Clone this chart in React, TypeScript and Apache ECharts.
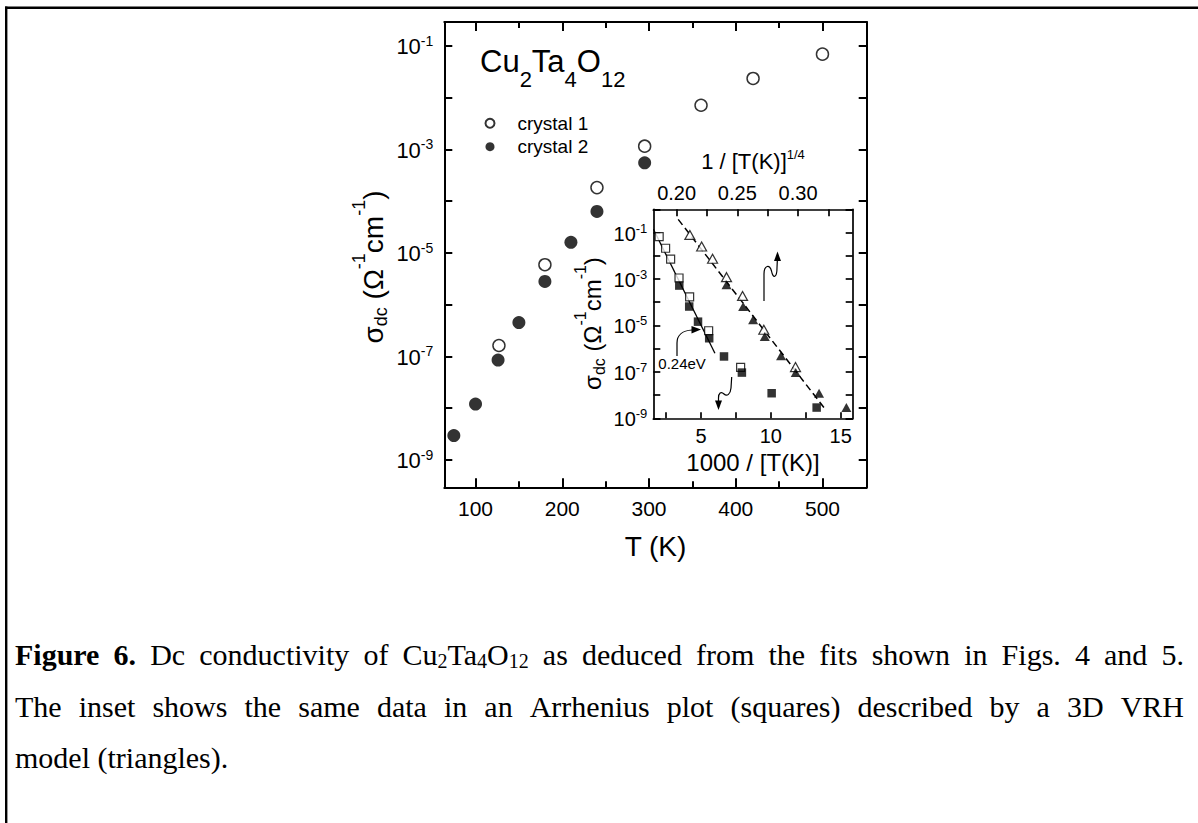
import React, { useEffect, useRef } from 'react';
import * as echarts from 'echarts';

const SANS = '"Liberation Sans", Arial, sans-serif';
const SERIF = '"Liberation Serif", "Times New Roman", serif';

// ---- main plot data: sigma_dc vs T ----
const mainTempsCrystal1 = [127, 180, 240, 295, 360, 420, 500];
const mainSigmaCrystal1 = [1.62e-7, 5.9e-6, 1.82e-4, 1.15e-3, 7.1e-3, 2.34e-2, 6.9e-2];
const mainTempsCrystal2 = [75, 100, 126, 150, 180, 210, 240, 295];
const mainSigmaCrystal2 = [2.95e-9, 1.2e-8, 8.5e-8, 4.5e-7, 2.8e-6, 1.6e-5, 6.3e-5, 5.5e-4];

// ---- inset: Arrhenius (squares, 1000/T) ----
const arrInvT1 = [2.01, 2.47, 2.83, 3.43, 4.19, 5.55, 7.84];
const arrSigma1 = [6.6e-2, 2.1e-2, 7.1e-3, 1.1e-3, 1.7e-4, 5.9e-6, 1.55e-7];
const arrInvT2 = [3.45, 4.16, 4.79, 5.59, 6.65, 7.93, 10.06, 13.28];
const arrSigma2 = [5.2e-4, 6.5e-5, 1.45e-5, 2.8e-6, 4.6e-7, 9.3e-8, 1.2e-8, 2.9e-9];
// ---- inset: VRH (triangles, T^-1/4) ----
const vrhX1 = [0.2109, 0.2206, 0.2296, 0.2411, 0.2543, 0.2718, 0.2979];
const vrhSigma1 = [7.9e-2, 2.5e-2, 7.4e-3, 1.2e-3, 1.86e-4, 6.5e-6, 1.6e-7];
const vrhX2 = [0.2411, 0.2548, 0.263, 0.2726, 0.286, 0.2981, 0.3173, 0.3398];
const vrhSigma2 = [5.6e-4, 6.5e-5, 1.74e-5, 3.3e-6, 4.9e-7, 9.3e-8, 1.2e-8, 2.9e-9];
// ---- fit lines ----
const arrFitX = [1.6, 6.0];
const arrFitSigma = [0.138, 6.3e-7];
const vrhFitX = [0.2013, 0.3228];
const vrhFitSigma = [0.37, 2.3e-9];

// ---- ticks ----
const mainXMajor = [100, 200, 300, 400, 500];
const mainXMinor = [150, 250, 350, 450];
const insetBottomTicks = [2.5, 5, 7.5, 10, 12.5, 15];
const insetBottomLabels = [5, 10, 15];
const insetTopTicks = [0.2, 0.225, 0.25, 0.275, 0.3, 0.325];
const insetTopLabels = [0.2, 0.25, 0.3];

// ---- caption ----
type Piece = [string, string];
const captionLine1: Piece[][] = [
  [['b', 'Figure']], [['b', '6.']], [['r', 'Dc']], [['r', 'conductivity']], [['r', 'of']],
  [['r', 'Cu'], ['sub', '2'], ['r', 'Ta'], ['sub', '4'], ['r', 'O'], ['sub', '12']],
  [['r', 'as']], [['r', 'deduced']], [['r', 'from']], [['r', 'the']], [['r', 'fits']],
  [['r', 'shown']], [['r', 'in']], [['r', 'Figs.']], [['r', '4']], [['r', 'and']], [['r', '5.']],
];
const captionLine2Words = 'The inset shows the same data in an Arrhenius plot (squares) described by a 3D VRH'.split(' ');
const captionLine3Words = 'model (triangles).'.split(' ');

const zip = (xs: number[], ys: number[]) => xs.map((x, i) => [x, ys[i]]);

const CAP_FS = 30;
const CAP_SUB = 20;
const CAP_LEFT = 15;
const CAP_RIGHT = 1184;

function capFont(style: string) {
  if (style === 'b') return `bold ${CAP_FS}px "Liberation Serif"`;
  if (style === 'sub') return `${CAP_SUB}px "Liberation Serif"`;
  return `${CAP_FS}px "Liberation Serif"`;
}

function buildCaptionLine(words: Piece[][], justify: boolean, spName: string) {
  const ctx = document.createElement('canvas').getContext('2d')!;
  let total = 0;
  words.forEach((w) => w.forEach(([s, t]) => { ctx.font = capFont(s); total += ctx.measureText(t).width; }));
  ctx.font = capFont('r');
  let sp = ctx.measureText(' ').width;
  if (justify) sp = (CAP_RIGHT - CAP_LEFT - total) / (words.length - 1);
  const text = words.map((w) => w.map(([s, t]) => `{${s}|${t}}`).join('')).join(`{${spName}| }`);
  return { text, sp };
}

const powLabel = (v: number) => {
  const e = Math.log10(v);
  const r = Math.round(e);
  if (Math.abs(e - r) > 1e-6 || r % 2 === 0) return '';
  return `{b|10}{s|${r}}`;
};

const tickRich = (fs: number, ss: number, pt: number) => ({
  b: { fontSize: fs, fontFamily: SANS, color: '#000', padding: [pt, 0, 0, 0] },
  s: { fontSize: ss, fontFamily: SANS, color: '#000', verticalAlign: 'top' },
});

function registerShapes() {
  const g: any = echarts.graphic;
  g.registerShape('arrowEa', g.extendPath('M677,356 L677,343 C677,335 683,330.5 692,330', {}));
  g.registerShape('arrowDown', g.extendPath('M731.7,377 L731,388 C730.5,394 727,397 724,394 C721,391 718.5,393 718.5,398 L718.5,401', {}));
  g.registerShape('arrowUp', g.extendPath('M764,301 L764,274 C764,265 770,264 771.5,271 C773,279 777,278 777,268 L777.3,261', {}));
}

function buildOption() {
  const mainLine = { show: true, onZero: false, lineStyle: { color: '#000', width: 2 } };
  const insetLine = { show: true, onZero: false, lineStyle: { color: '#000', width: 1.7 } };
  const mainTickStyle = { color: '#000', width: 2 };
  const insetTickStyle = { color: '#000', width: 1.7 };
  const noSplit = { show: false };

  const l1 = buildCaptionLine(captionLine1, true, 'sp1');
  const l2 = buildCaptionLine(captionLine2Words.map((w) => [['r', w] as Piece]), true, 'sp2');
  const l3 = buildCaptionLine(captionLine3Words.map((w) => [['r', w] as Piece]), false, 'sp3');
  const capRich: any = {
    r: { fontSize: CAP_FS, fontFamily: SERIF, color: '#000', padding: [0, 0, 2, 0] },
    b: { fontSize: CAP_FS, fontFamily: SERIF, fontWeight: 'bold', color: '#000', padding: [0, 0, 2, 0] },
    sub: { fontSize: CAP_SUB, fontFamily: SERIF, color: '#000', verticalAlign: 'bottom' },
    sp1: { fontSize: CAP_FS, fontFamily: SERIF, width: l1.sp },
    sp2: { fontSize: CAP_FS, fontFamily: SERIF, width: l2.sp },
    sp3: { fontSize: CAP_FS, fontFamily: SERIF, width: l3.sp },
  };

  const yTitleRich = (fs: number, ss: number, pt: number, pb: number) => ({
    m: { fontSize: fs, fontFamily: SANS, color: '#000', padding: [pt, 0, pb, 0] },
    sup: { fontSize: ss, fontFamily: SANS, color: '#000', verticalAlign: 'top' },
    sub: { fontSize: ss, fontFamily: SANS, color: '#000', verticalAlign: 'bottom' },
  });
  const yTitleText = '{m|σ}{sub|dc}{m| (Ω}{sup|-1}{m|cm}{sup|-1}{m|)}';

  return {
    animation: false,
    backgroundColor: '#fff',
    textStyle: { fontFamily: SANS, color: '#000' },
    grid: [
      { left: 444.3, top: 22, width: 422.4, height: 465.3, outerBoundsMode: 'none' },
      { left: 653.3, top: 209.3, width: 199.4, height: 209, outerBoundsMode: 'none' },
    ],
    legend: {
      data: ['crystal 1', 'crystal 2'],
      orient: 'vertical',
      left: 484.5,
      top: 113.8,
      padding: 0,
      itemWidth: 45,
      itemHeight: 9,
      itemGap: 4.4,
      selectedMode: false,
      textStyle: { fontSize: 19, fontFamily: SANS, color: '#000', lineHeight: 19 },
    },
    xAxis: [
      {
        type: 'value', gridIndex: 0, position: 'bottom', min: 64, max: 551,
        axisLine: mainLine,
        axisTick: { inside: true, length: 9, customValues: mainXMajor, lineStyle: mainTickStyle },
        axisLabel: { customValues: mainXMajor, fontSize: 21, fontFamily: SANS, color: '#000', margin: 11 },
        splitLine: noSplit,
        name: 'T (K)', nameLocation: 'middle', nameGap: 45,
        nameTextStyle: { fontSize: 28, fontFamily: SANS, color: '#000' },
      },
      {
        type: 'value', gridIndex: 0, position: 'bottom', min: 64, max: 551,
        axisLine: { show: false, onZero: false },
        axisTick: { inside: true, length: 6, customValues: mainXMinor, lineStyle: mainTickStyle },
        axisLabel: { show: false }, splitLine: noSplit,
      },
      {
        type: 'value', gridIndex: 0, position: 'top', min: 64, max: 551,
        axisLine: mainLine,
        axisTick: { inside: true, length: 9, customValues: mainXMajor, lineStyle: mainTickStyle },
        axisLabel: { show: false }, splitLine: noSplit,
      },
      {
        type: 'value', gridIndex: 0, position: 'top', min: 64, max: 551,
        axisLine: { show: false, onZero: false },
        axisTick: { inside: true, length: 6, customValues: mainXMinor, lineStyle: mainTickStyle },
        axisLabel: { show: false }, splitLine: noSplit,
      },
      {
        type: 'value', gridIndex: 1, position: 'bottom', min: 1.59, max: 15.86,
        axisLine: insetLine,
        axisTick: { inside: true, length: 6, customValues: insetBottomTicks, lineStyle: insetTickStyle },
        axisLabel: { customValues: insetBottomLabels, fontSize: 20, fontFamily: SANS, color: '#000', margin: 8 },
        splitLine: noSplit,
        name: '1000 / [T(K)]', nameLocation: 'middle', nameGap: 32,
        nameTextStyle: { fontSize: 24, fontFamily: SANS, color: '#000' },
      },
      {
        type: 'value', gridIndex: 1, position: 'top', min: 0.1808, max: 0.345,
        axisLine: insetLine,
        axisTick: { inside: true, length: 7, customValues: insetTopTicks, lineStyle: insetTickStyle },
        axisLabel: {
          customValues: insetTopLabels, fontSize: 20, fontFamily: SANS, color: '#000', margin: 6,
          formatter: (v: number) => v.toFixed(2),
        },
        splitLine: noSplit,
        name: '{b|1 / [T(K)]}{s|1/4}', nameLocation: 'middle', nameGap: 37,
        nameTextStyle: {
          rich: {
            b: { fontSize: 22, fontFamily: SANS, color: '#000', padding: [2, 0, 0, 0] },
            s: { fontSize: 13, fontFamily: SANS, color: '#000', verticalAlign: 'top' },
          },
        },
      },
    ],
    yAxis: [
      {
        type: 'log', logBase: 10, gridIndex: 0, position: 'left',
        min: Math.pow(10, -9.53), max: Math.pow(10, -0.54),
        axisLine: mainLine,
        axisTick: { inside: true, length: 8, lineStyle: mainTickStyle },
        axisLabel: { formatter: powLabel, margin: 11, rich: tickRich(22, 14, 2) },
        splitLine: noSplit, minorTick: { show: false },
      },
      {
        type: 'log', logBase: 10, gridIndex: 0, position: 'right',
        min: Math.pow(10, -9.53), max: Math.pow(10, -0.54),
        axisLine: mainLine,
        axisTick: { inside: true, length: 8, lineStyle: mainTickStyle },
        axisLabel: { show: false }, splitLine: noSplit,
      },
      {
        type: 'log', logBase: 10, gridIndex: 1, position: 'left',
        min: 0.999e-9, max: 1.001,
        axisLine: insetLine,
        axisTick: { inside: true, length: 7, lineStyle: insetTickStyle },
        axisLabel: { formatter: powLabel, margin: 6, rich: tickRich(20, 13, 2) },
        splitLine: noSplit,
      },
      {
        type: 'log', logBase: 10, gridIndex: 1, position: 'right',
        min: 0.999e-9, max: 1.001,
        axisLine: insetLine,
        axisTick: { inside: true, length: 7, lineStyle: insetTickStyle },
        axisLabel: { show: false }, splitLine: noSplit,
      },
    ],
    series: [
      {
        name: 'crystal 1', type: 'scatter', xAxisIndex: 0, yAxisIndex: 0,
        data: zip(mainTempsCrystal1, mainSigmaCrystal1), symbol: 'circle', symbolSize: 12,
        itemStyle: { color: '#fff', borderColor: '#000', borderWidth: 1.5 }, z: 4, silent: true,
      },
      {
        name: 'crystal 2', type: 'scatter', xAxisIndex: 0, yAxisIndex: 0,
        data: zip(mainTempsCrystal2, mainSigmaCrystal2), symbol: 'circle', symbolSize: 13,
        itemStyle: { color: '#000' }, z: 4, silent: true,
      },
      {
        name: 'Arrhenius fit 0.24 eV', type: 'line', xAxisIndex: 4, yAxisIndex: 2,
        data: zip(arrFitX, arrFitSigma), symbol: 'none',
        lineStyle: { color: '#000', width: 1.3 }, z: 2, silent: true,
      },
      {
        name: '3D VRH fit', type: 'line', xAxisIndex: 5, yAxisIndex: 2,
        data: zip(vrhFitX, vrhFitSigma), symbol: 'none',
        lineStyle: { color: '#000', width: 1.5, type: [7, 4] }, z: 2, silent: true,
      },
      {
        name: 'crystal 1 (Arrhenius)', type: 'scatter', xAxisIndex: 4, yAxisIndex: 2,
        data: zip(arrInvT1, arrSigma1), symbol: 'rect', symbolSize: 8,
        itemStyle: { color: '#fff', borderColor: '#000', borderWidth: 1.2 }, z: 4, silent: true,
      },
      {
        name: 'crystal 2 (Arrhenius)', type: 'scatter', xAxisIndex: 4, yAxisIndex: 2,
        data: zip(arrInvT2, arrSigma2), symbol: 'rect', symbolSize: 8.5,
        itemStyle: { color: '#000' }, z: 4, silent: true,
      },
      {
        name: 'crystal 1 (VRH)', type: 'scatter', xAxisIndex: 5, yAxisIndex: 2,
        data: zip(vrhX1, vrhSigma1), symbol: 'triangle', symbolSize: [10, 9],
        itemStyle: { color: '#fff', borderColor: '#000', borderWidth: 1.2 }, z: 4, silent: true,
      },
      {
        name: 'crystal 2 (VRH)', type: 'scatter', xAxisIndex: 5, yAxisIndex: 2,
        data: zip(vrhX2, vrhSigma2), symbol: 'triangle', symbolSize: [10, 9],
        itemStyle: { color: '#000' }, z: 4, silent: true,
      },
    ],
    graphic: [
      // page frame
      { type: 'line', shape: { x1: 5, y1: 7.7, x2: 1198, y2: 7.7 }, style: { stroke: '#000', lineWidth: 2.4 }, silent: true },
      { type: 'line', shape: { x1: 6.2, y1: 6.5, x2: 6.2, y2: 823 }, style: { stroke: '#000', lineWidth: 2.4 }, silent: true },
      // compound label
      {
        type: 'text', x: 480, y: 45.6, silent: true,
        style: {
          text: '{n|Cu}{d|2}{n|Ta}{d|4}{n|O}{d|12}', align: 'left', verticalAlign: 'top',
          rich: {
            n: { fontSize: 31, fontFamily: SANS, color: '#000', padding: [0, 0, 14, 0] },
            d: { fontSize: 22, fontFamily: SANS, color: '#000', verticalAlign: 'bottom' },
          },
        },
      },
      // y-axis titles
      {
        type: 'text', x: 370, y: 267, rotation: Math.PI / 2, silent: true,
        style: { text: yTitleText, align: 'center', verticalAlign: 'middle', rich: yTitleRich(28, 18, 9, 3) },
      },
      {
        type: 'text', x: 590, y: 323.5, rotation: Math.PI / 2, silent: true,
        style: { text: yTitleText, align: 'center', verticalAlign: 'middle', rich: yTitleRich(24, 16, 8, 3) },
      },
      // activation energy annotation
      {
        type: 'text', x: 658.3, y: 363.3, silent: true,
        style: { text: '0.24eV', fontSize: 15, fontFamily: SANS, fill: '#000', align: 'left', verticalAlign: 'middle' },
      },
      { type: 'arrowEa', x: 0, y: 0, silent: true, style: { fill: 'none', stroke: '#000', lineWidth: 1.2 } },
      { type: 'polygon', silent: true, shape: { points: [[701, 329.5], [691.5, 326], [691.5, 333.5]] }, style: { fill: '#000' } },
      { type: 'arrowDown', x: 0, y: 0, silent: true, style: { fill: 'none', stroke: '#000', lineWidth: 1.2 } },
      { type: 'polygon', silent: true, shape: { points: [[718.5, 410], [715, 400.5], [722, 400.5]] }, style: { fill: '#000' } },
      { type: 'arrowUp', x: 0, y: 0, silent: true, style: { fill: 'none', stroke: '#000', lineWidth: 1.2 } },
      { type: 'polygon', silent: true, shape: { points: [[777.5, 251.5], [774, 261], [781, 261]] }, style: { fill: '#000' } },
      // caption
      { type: 'text', x: CAP_LEFT, y: 655, silent: true, style: { text: l1.text, align: 'left', verticalAlign: 'middle', rich: capRich } },
      { type: 'text', x: CAP_LEFT, y: 707, silent: true, style: { text: l2.text, align: 'left', verticalAlign: 'middle', rich: capRich } },
      { type: 'text', x: CAP_LEFT, y: 758, silent: true, style: { text: l3.text, align: 'left', verticalAlign: 'middle', rich: capRich } },
    ],
  };
}

export default function App() {
  const ref = useRef<HTMLDivElement>(null);
  useEffect(() => {
    if (!ref.current) return;
    registerShapes();
    const chart = echarts.init(ref.current, undefined, { renderer: 'svg' });
    chart.setOption(buildOption() as any);
    return () => chart.dispose();
  }, []);
  return (
    <div
      ref={ref}
      style={{ position: 'absolute', left: 0, top: 0, width: 1198, height: 823, background: '#fff' }}
    />
  );
}
